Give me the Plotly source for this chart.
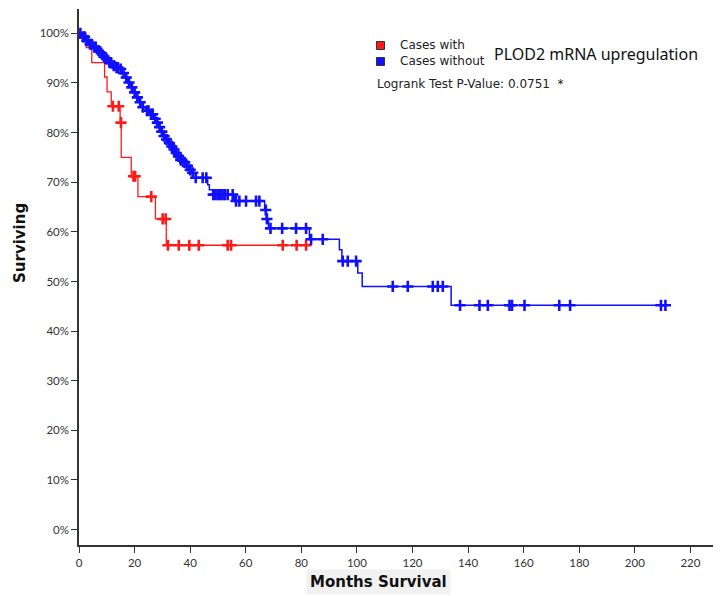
import plotly.graph_objects as go

# ---------------- data ----------------
# "Cases with PLOD2 mRNA upregulation"  (red)
red_step_months = [0, 2.6, 4.6, 9.2, 10.1, 11.6, 14.8, 15.2, 18.8, 21.2, 27.5, 31.4]
red_step_surv   = [100, 97.1, 94.1, 91.2, 88.2, 85.3, 82.0, 75.0, 71.2, 67.1, 62.6, 57.3]
red_end_month = 82.3
red_censor_months = [12.2, 14.3, 15.1, 19.6, 20.2, 26.0, 30.1, 31.2, 32.0, 35.9,
                     39.7, 43.1, 53.5, 54.7, 73.3, 78.3, 81.7]

# "Cases without PLOD2 mRNA upregulation"  (blue)
blue_step_months = [0, 1.0, 2.3, 3.5, 5.0, 6.5, 7.7, 8.5, 9.5, 10.5, 11.9, 13.0, 14.3,
                    15.5, 16.7, 17.5, 18.5, 19.4, 20.3, 21.5, 22.7, 24.0, 25.4, 27.0,
                    27.8, 28.6, 29.3, 30.1, 31.0, 32.0, 33.0, 33.7, 34.7, 35.5, 36.2,
                    37.3, 38.5, 39.5, 40.5, 41.2, 46.3, 46.9, 48.1, 55.9, 66.8, 67.4,
                    68.2, 82.9, 93.7, 94.6, 100.3, 101.9, 133.9]
blue_step_surv = [100, 99.3, 98.5, 97.8, 97.2, 96.5, 96.0, 95.3, 94.8, 94.1, 93.5, 93.1,
                  92.8, 92.0, 91.1, 90.1, 89.1, 88.1, 87.1, 86.1, 85.1, 84.4, 83.7, 82.8,
                  82.0, 81.1, 80.2, 79.3, 78.6, 77.9, 77.2, 76.6, 75.9, 75.2, 74.5, 74.0,
                  73.3, 72.5, 71.9, 70.9, 69.5, 68.5, 67.5, 66.2, 64.4, 62.6, 60.7, 58.5,
                  56.4, 54.1, 51.7, 49.0, 45.2]
blue_end_month = 211.0
blue_censor_months = [0.5, 1.5, 2.0, 2.8, 3.2, 4.0, 4.5, 5.5, 6.0, 7.0, 8.0, 9.0, 10.0,
                      11.0, 11.5, 12.5, 13.5, 14.0, 15.0, 16.0, 17.0, 18.0, 19.0, 20.0,
                      21.0, 22.0, 23.0, 24.5, 25.0, 26.0, 26.5, 27.4, 28.2, 29.0, 29.8,
                      30.6, 31.5, 32.5, 33.4, 34.2, 35.0, 35.8, 36.6, 37.0, 38.0, 39.0,
                      40.0, 40.9, 42.0, 44.5, 45.8, 48.3, 49.0, 49.8, 50.5, 51.2, 52.0,
                      52.5, 53.5, 55.3, 56.5, 57.7, 60.1, 63.7, 64.9, 67.2, 67.6, 68.9,
                      73.1, 78.1, 81.7, 83.5, 87.7, 94.9, 96.7, 99.7, 112.9, 118.3,
                      127.3, 129.1, 130.9, 137.1, 144.1, 147.1, 154.9, 155.8, 160.3,
                      172.8, 176.7, 209.4, 211.0]

y_ticks = [0, 10, 20, 30, 40, 50, 60, 70, 80, 90, 100]
x_ticks = [0, 20, 40, 60, 80, 100, 120, 140, 160, 180, 200, 220]

legend_labels = ["Cases with", "Cases without"]
group_title = "PLOD2 mRNA upregulation"
pvalue_text = "Logrank Test P-Value: 0.0751  *"
x_title = "Months Survival"
y_title = "Surviving"

RED = "#ff1a1a"
BLUE = "#1010ff"


def surv_at(t, times, surv):
    val = surv[0]
    for tt, s in zip(times, surv):
        if tt <= t:
            val = s
    return val


fig = go.Figure()

for times, surv, end, cens, col, w in [
    (red_step_months, red_step_surv, red_end_month, red_censor_months, RED, 1.3),
    (blue_step_months, blue_step_surv, blue_end_month, blue_censor_months, BLUE, 1.5),
]:
    fig.add_trace(go.Scatter(
        x=list(times) + [end], y=list(surv) + [surv[-1]],
        mode="lines", line=dict(color=col, width=w, shape="hv"),
        showlegend=False, hoverinfo="skip"))
    fig.add_trace(go.Scatter(
        x=cens, y=[surv_at(t, times, surv) for t in cens],
        mode="markers",
        marker=dict(symbol="cross-thin", size=8, line=dict(color=col, width=2.6)),
        showlegend=False, hoverinfo="skip"))

# The page body has an 8px default margin, so the figure is drawn 8px in from
# the top-left corner of the window; lay it out to fill the rest of the window.
OFF = 8
W, H = 721 - OFF, 596 - OFF
L, R, T, B = 79 - OFF, 0, 9 - OFF, 596 - 545
PW, PH = W - L - R, H - T - B


def px(x):  # window pixel -> paper x
    return (x - OFF - L) / PW


def py(y):  # window pixel -> paper y
    return (H - B - (y - OFF)) / PH


shapes = []
annotations = []
for i, (lab, col) in enumerate(zip(legend_labels, [RED, BLUE])):
    cy = 45.5 + 16 * i
    shapes.append(dict(type="rect", xref="paper", yref="paper",
                       x0=px(376.5), x1=px(384.5), y0=py(cy + 4), y1=py(cy - 4),
                       fillcolor=col, line=dict(color="#333", width=1)))
    annotations.append(dict(xref="paper", yref="paper", x=px(398), y=py(cy),
                            text=lab, showarrow=False, xanchor="left", yanchor="middle",
                            font=dict(family="DejaVu Sans", size=12, color="#222")))

annotations.append(dict(xref="paper", yref="paper", x=px(492), y=py(53.5),
                        text=group_title, showarrow=False, xanchor="left", yanchor="middle",
                        font=dict(family="Noto Sans", size=16, color="#111")))
annotations.append(dict(xref="paper", yref="paper", x=px(375), y=py(84),
                        text=pvalue_text, showarrow=False, xanchor="left", yanchor="middle",
                        font=dict(family="DejaVu Sans", size=12, color="#222")))
annotations.append(dict(xref="paper", yref="paper", x=px(20), y=py(243),
                        text=y_title, textangle=-90, showarrow=False,
                        xanchor="center", yanchor="middle",
                        font=dict(family="DejaVu Sans", size=15, color="#111", weight="bold")))
annotations.append(dict(xref="paper", yref="paper", x=px(378), y=py(582),
                        text=x_title, showarrow=False, xanchor="center", yanchor="middle",
                        bgcolor="#f1f1f1", borderpad=3,
                        font=dict(family="DejaVu Sans", size=15, color="#111", weight="bold")))

fig.update_layout(
    width=W, height=H,
    margin=dict(l=L, r=R, t=T, b=B, pad=0),
    paper_bgcolor="white", plot_bgcolor="white",
    shapes=shapes, annotations=annotations,
    showlegend=False,
    xaxis=dict(range=[0, 231], tickvals=x_ticks, ticktext=[str(v) for v in x_ticks],
               showgrid=False, zeroline=False, showline=True, linecolor="#333",
               linewidth=1.5, ticks="outside", ticklen=6, tickcolor="#333", tickwidth=1.2,
               automargin=False,
               tickfont=dict(family="Lato", size=11.5, color="#333")),
    yaxis=dict(range=[-3.1, 104.9], tickvals=y_ticks, ticktext=[f"{v}%" for v in y_ticks],
               showgrid=False, zeroline=False, showline=True, linecolor="#333",
               linewidth=1.5, ticks="outside", ticklen=6, tickcolor="#333", tickwidth=1.2,
               automargin=False,
               tickfont=dict(family="Lato", size=11.5, color="#333")),
)

fig.write_html("out.html")
